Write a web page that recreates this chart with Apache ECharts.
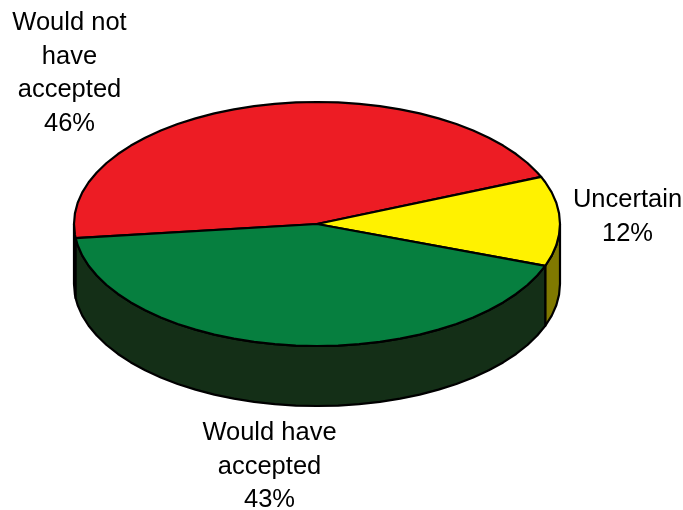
<!DOCTYPE html>
<html><head><meta charset="utf-8">
<style>html,body{margin:0;padding:0;background:#fff}#c{width:683px;height:510px}</style>
<script src="https://cdn.jsdelivr.net/npm/echarts@6/dist/echarts.min.js"></script>
</head><body><div id="c"></div>
<script>
const categories = ['Would not have accepted', 'Uncertain', 'Would have accepted'];
const labels = ['Would not\nhave\naccepted\n46%', 'Uncertain\n12%', 'Would have\naccepted\n43%'];
const values = [46, 12, 43];
const topColors = ['#ED1C24', '#FFF200', '#067F3F'];
const sideColors = ['#76100F', '#807900', '#142F17'];
const labelPos = [[69.5, 73.5], [627.5, 217], [269.5, 466.5]];

const cx = 317, cy = 224, rx = 243, ry = 122, depth = 60;
const total = values.reduce((a, b) => a + b, 0);
// The red slice runs anticlockwise from the upper right edge of the yellow slice
const startDeg = 22.7;
const pt = (deg, dy) => {
  const r = deg * Math.PI / 180;
  return [cx + rx * Math.cos(r), cy - ry * Math.sin(r) + (dy || 0)];
};
function sliceRange(i) {
  const order = [1, 2, 0];
  let a = startDeg;
  for (const k of order) {
    const sweep = values[k] / total * 360;
    if (k === i) return [a - sweep, a];
    a -= sweep;
  }
}
// The reference outline is a coarse polygon, so arcs break on a fixed angular grid
const STEP = 5;
function arc(a0, a1, dy) {
  const out = [pt(a0, dy)];
  const lo = Math.min(a0, a1), hi = Math.max(a0, a1);
  const grid = [];
  for (let g = Math.ceil(lo / STEP) * STEP; g < hi; g += STEP) if (g > lo) grid.push(g);
  if (a0 > a1) grid.reverse();
  grid.forEach(g => out.push(pt(g, dy)));
  out.push(pt(a1, dy));
  return out;
}
function rimParts(a0, a1) {
  const parts = [];
  for (let k = -2; k <= 1; k++) {
    const lo = Math.max(a0, -180 + 360 * k), hi = Math.min(a1, 360 * k);
    if (hi > lo) parts.push([lo, hi]);
  }
  return parts;
}
const stroke = { stroke: '#000', lineWidth: 2.2, lineJoin: 'round' };
function renderItem(params) {
  const i = params.dataIndex;
  const [a0, a1] = sliceRange(i);
  const children = [];
  rimParts(a0, a1).forEach(([lo, hi]) => {
    const pts = arc(lo, hi, 0).concat(arc(hi, lo, depth));
    children.push({ type: 'polygon', z2: 1, shape: { points: pts },
      style: Object.assign({ fill: sideColors[i] }, stroke) });
  });
  const top = [[cx, cy]].concat(arc(a0, a1, 0));
  children.push({ type: 'polygon', z2: 2, shape: { points: top },
    style: Object.assign({ fill: topColors[i] }, stroke) });
  children.push({ type: 'text', z2: 3, style: {
    x: labelPos[i][0], y: labelPos[i][1], text: labels[i],
    align: 'center', verticalAlign: 'middle',
    font: '25.5px "Liberation Sans", Arial, sans-serif', lineHeight: 33.5, fill: '#000' } });
  return { type: 'group', children };
}
const chart = echarts.init(document.getElementById('c'), null, { renderer: 'canvas' });
chart.setOption({
  animation: false,
  backgroundColor: '#fff',
  series: [{
    type: 'custom',
    coordinateSystem: 'none',
    renderItem,
    data: values.map((v, i) => ({ name: categories[i], value: v }))
  }]
});
</script></body></html>
